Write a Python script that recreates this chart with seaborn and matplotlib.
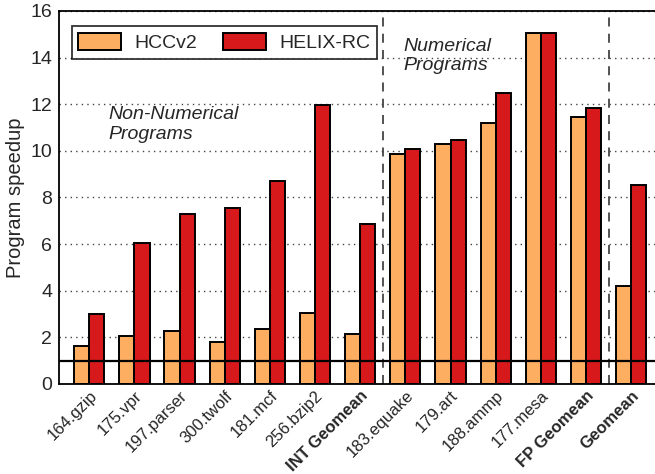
import pandas as pd
import seaborn as sns
import matplotlib.pyplot as plt

# data
benchmarks = ["164.gzip", "175.vpr", "197.parser", "300.twolf", "181.mcf", "256.bzip2",
              "INT Geomean", "183.equake", "179.art", "188.ammp", "177.mesa",
              "FP Geomean", "Geomean"]
hccv2 = [1.63, 2.05, 2.29, 1.80, 2.35, 3.06, 2.15, 9.85, 10.30, 11.20, 15.05, 11.45, 4.18]
helix_rc = [3.00, 6.05, 7.30, 7.55, 8.70, 11.95, 6.85, 10.08, 10.45, 12.50, 15.05, 11.85, 8.55]
bold_labels = ["INT Geomean", "FP Geomean", "Geomean"]

df = pd.DataFrame({
    "benchmark": benchmarks * 2,
    "speedup": hccv2 + helix_rc,
    "system": ["HCCv2"] * len(benchmarks) + ["HELIX-RC"] * len(benchmarks),
})

sns.set_style("white")
plt.rcParams['font.family'] = ['Liberation Sans', 'DejaVu Sans']

fig = plt.figure(figsize=(6.55, 4.74), dpi=100)
ax = fig.add_axes([0.09, 0.19, 0.915, 0.787])

sns.barplot(data=df, x="benchmark", y="speedup", hue="system",
            palette={"HCCv2": "#fdae61", "HELIX-RC": "#d7191c"},
            width=0.67, edgecolor="black", linewidth=1.4, saturation=1,
            ax=ax, zorder=2)

ax.set_ylim(0, 16)
ax.set_xlim(-0.67, 12.6)
ax.set_yticks(range(0, 17, 2))
ax.yaxis.grid(True, linestyle=(0, (1, 3)), color="#444444", linewidth=1.0, zorder=0)
ax.set_axisbelow(True)
ax.axhline(1, color="black", linewidth=1.6, zorder=3)
for xv in [6.5, 11.5]:
    ax.axvline(xv, color="#444444", linestyle=(0, (5, 4)), linewidth=1.3, zorder=1)

ax.set_xlabel("")
ax.set_ylabel("Program speedup", fontsize=14.5)
ax.tick_params(axis="y", labelsize=14, length=0, pad=5)
ax.set_xticks(range(len(benchmarks)))
ax.set_xticklabels(benchmarks, rotation=45, ha="right", rotation_mode="anchor", fontsize=12)
for lab in ax.get_xticklabels():
    if lab.get_text() in bold_labels:
        lab.set_fontweight("bold")
ax.tick_params(axis="x", length=0, pad=3)

for s in ax.spines.values():
    s.set_color("black")
    s.set_linewidth(1.3)

ax.text(0.42, 11.9, "Non-Numerical\nPrograms", fontsize=14, style="italic", va="top", ha="left")
ax.text(6.95, 14.85, "Numerical\nPrograms", fontsize=14, style="italic", va="top", ha="left")

leg = ax.legend(loc="upper left", ncol=2, fontsize=14, frameon=True, fancybox=False,
                edgecolor="black", borderpad=0.35, columnspacing=1.3,
                handlelength=2.2, handleheight=1.0, handletextpad=0.7,
                bbox_to_anchor=(0.005, 0.985))
leg.get_frame().set_linewidth(1.3)

fig.savefig("out.png", dpi=100)
